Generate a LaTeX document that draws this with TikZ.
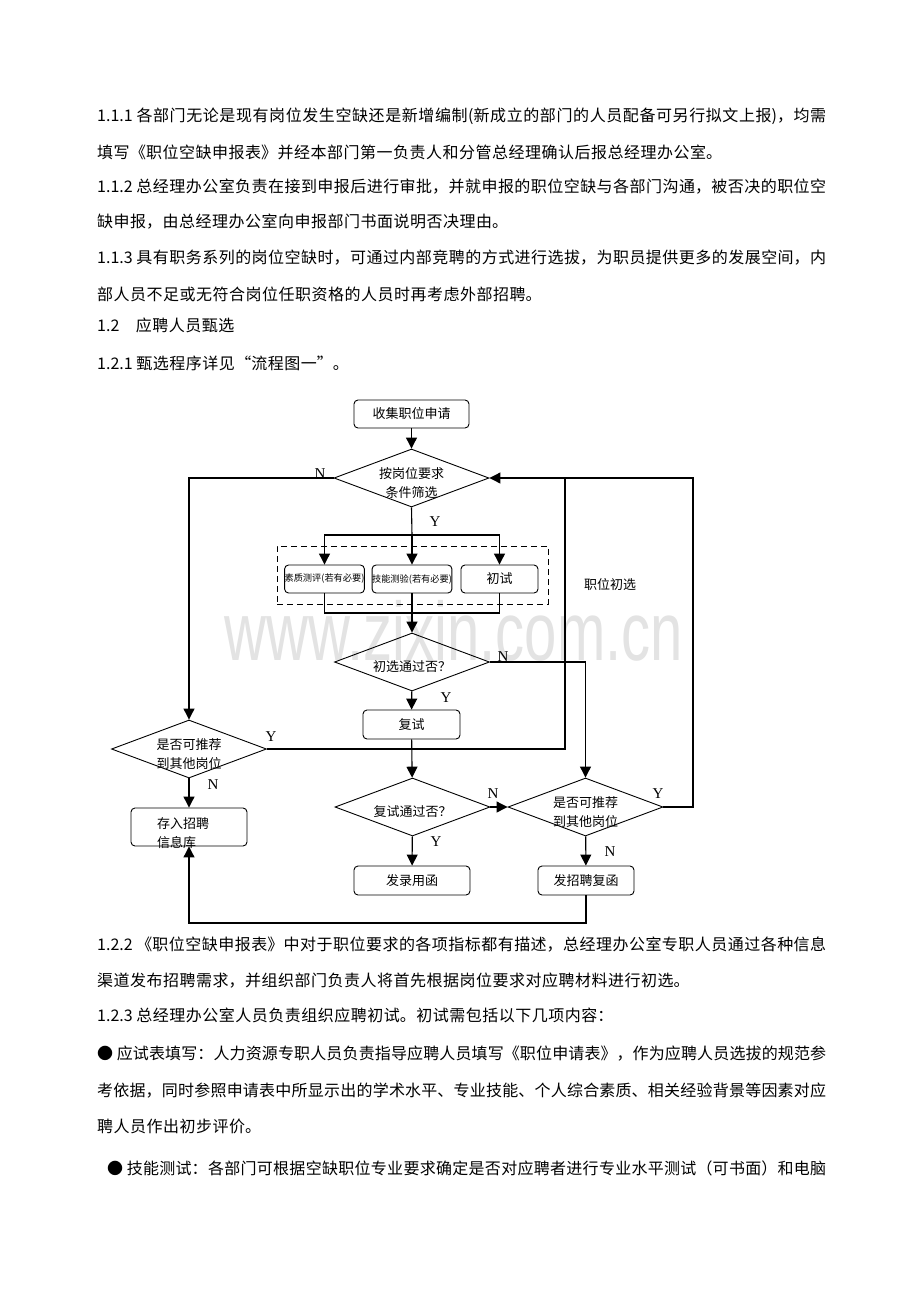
\documentclass[tikz,border=0pt]{standalone}
\usepackage{fontspec}
\setmainfont{Liberation Serif}
\newfontfamily\cjk{Noto Sans CJK SC}
\newfontfamily\markfont{Liberation Sans}
\usetikzlibrary{shapes.geometric,arrows.meta}
\XeTeXlinebreaklocale "zh"
\XeTeXlinebreakskip=0pt plus 1pt
% a body line stretched to the full measure
\newcommand{\jline}[2][729pt]{\parbox[t]{#1}{\XeTeXlinebreakskip=0pt plus 5pt\parfillskip=0pt\relax #2}}
% a short (last) line of a paragraph
\newcommand{\sline}[1]{\parbox[t]{729pt}{\XeTeXlinebreakskip=0.5pt\relax #1}}
\tikzset{
  docline/.style={anchor=base west,inner sep=0pt,font=\cjk\fontsize{16}{19}\selectfont},
  proc/.style={draw,line width=0.9pt,rounded corners=4pt,minimum height=29pt,inner sep=1pt,font=\cjk\fontsize{13}{15}\selectfont},
  testbox/.style={proc,minimum width=77pt,minimum height=28pt,inner sep=0pt,font=\cjk\fontsize{9.2}{11}\selectfont},
  decide/.style={diamond,draw,line width=0.9pt,minimum width=155pt,minimum height=58pt,inner sep=0pt},
  boxtext/.style={inner sep=0pt,font=\cjk\fontsize{13}{19.5}\selectfont},
  dtext/.style={boxtext,align=center,yshift=-5pt},
  yn/.style={inner sep=0pt,font=\fontsize{15}{15}\selectfont},
  arrowline/.style={line width=1.1pt,-{Triangle[length=11pt,width=11pt]}},
  plainline/.style={line width=1.1pt},
}
\begin{document}
\begin{tikzpicture}[x=1pt,y=-1pt]
\fill[white](0,0)rectangle(920,1302);
\useasboundingbox(0,0)rectangle(920,1302);
% watermark
\node[anchor=base,inner sep=0pt,text=black!11,font=\markfont\fontsize{83}{83}\selectfont](mark)at(454,660){\scalebox{0.7}[1]{www.zixin.com.cn}};
% text above the chart
\node[docline](p1)at(97,121){\jline{1.1.1 各部门无论是现有岗位发生空缺还是新增编制(新成立的部门的人员配备可另行拟文上报)，均需}};
\node[docline](p2)at(97,158){\sline{填写《职位空缺申报表》并经本部门第一负责人和分管总经理确认后报总经理办公室。}};
\node[docline](p3)at(97,192){\jline{1.1.2 总经理办公室负责在接到申报后进行审批，并就申报的职位空缺与各部门沟通，被否决的职位空}};
\node[docline](p4)at(97,227){\sline{缺申报，由总经理办公室向申报部门书面说明否决理由。}};
\node[docline](p5)at(97,263){\jline{1.1.3 具有职务系列的岗位空缺时，可通过内部竞聘的方式进行选拔，为职员提供更多的发展空间，内}};
\node[docline](p6)at(97,300){\sline{部人员不足或无符合岗位任职资格的人员时再考虑外部招聘。}};
\node[docline](p7)at(97,331){\sline{1.2　应聘人员甄选}};
\node[docline](p8)at(97,369){\sline{1.2.1 甄选程序详见“流程图一”。}};
% flow chart
\node[proc,minimum width=115pt,minimum height=28pt](collect)at(411.5,414){收集职位申请};
\node[decide,label={[dtext]center:{按岗位要求\\条件筛选}}](screen)at(411.5,478){};
\node[draw,dashed,dash pattern=on 6pt off 4pt,line width=0.9pt,minimum width=271pt,minimum height=58pt,inner sep=0pt](group)at(412.5,575){};
\node[testbox](qual)at(324.5,579){素质测评(若有必要)};
\node[testbox](skill)at(412,579){技能测验(若有必要)};
\node[testbox,font=\cjk\fontsize{13}{15}\selectfont](first)at(499.5,579){初试};
\node[boxtext](stage)at(610,585){职位初选};
\node[decide,label={[dtext]center:{初选通过否？}}](pass1)at(412,662){};
\node[proc,minimum width=97pt](retest)at(411.5,724.5){复试};
\node[decide,label={[dtext]center:{是否可推荐\\到其他岗位}}](recL)at(189,749){};
\node[proc,minimum width=116pt,minimum height=38pt](store)at(189,827){};
\node[boxtext,anchor=west,align=left](storetext)at(157,833){存入招聘\\信息库};
\node[decide,label={[dtext]center:{复试通过否？}}](pass2)at(412.5,807){};
\node[decide,label={[dtext]center:{是否可推荐\\到其他岗位}}](recR)at(585.5,807){};
\node[proc,minimum width=116pt](offer)at(412,880.5){发录用函};
\node[proc,minimum width=96pt](reply)at(586,880.5){发招聘复函};
\coordinate(split)at(412,535);
\coordinate(merge)at(412,613);
\coordinate(loopA)at(565,478);
\coordinate(loopB)at(693,478);
\coordinate(back)at(586,923);
\draw[arrowline](collect)--(screen);
\draw[arrowline](screen.west)-|(recL.north);
\draw[plainline](screen.south)--(split);
\draw[arrowline](split)-|(qual.north);
\draw[arrowline](split)-|(first.north);
\draw[arrowline](split)--(skill.north);
\draw[plainline](qual.south)|-(merge);
\draw[plainline](first.south)|-(merge);
\draw[arrowline](skill.south)--(pass1.north);
\draw[arrowline](pass1.east)-|(recR.north);
\draw[arrowline](pass1)--(retest);
\draw[arrowline](retest)--(pass2);
\draw[plainline](recL.east)-|(loopA);
\draw[arrowline](recR.east)-|(loopB)--(screen.east);
\draw[arrowline](recL)--(store);
\draw[arrowline](pass2)--(recR);
\draw[arrowline](pass2)--(offer);
\draw[arrowline](recR)--(reply);
\draw[arrowline](reply.south)--(back)-|(store.south);
% Y / N marks
\node[yn](n1)at(320,474){N};
\node[yn](y1)at(435,522){Y};
\node[yn](n2)at(503,657){N};
\node[yn](y2)at(446,698){Y};
\node[yn](y3)at(271,737){Y};
\node[yn](n3)at(213,785){N};
\node[yn](n4)at(493,794){N};
\node[yn](y4)at(658,794){Y};
\node[yn](y5)at(436,842){Y};
\node[yn](n5)at(610,852){N};
% text below the chart
\node[docline](p9)at(97,950){\jline{1.2.2 《职位空缺申报表》中对于职位要求的各项指标都有描述，总经理办公室专职人员通过各种信息}};
\node[docline](p10)at(97,986){\sline{渠道发布招聘需求，并组织部门负责人将首先根据岗位要求对应聘材料进行初选。}};
\node[docline](p11)at(97,1021){\sline{1.2.3 总经理办公室人员负责组织应聘初试。初试需包括以下几项内容：}};
\node[docline](p12)at(97,1059){\jline{● 应试表填写：人力资源专职人员负责指导应聘人员填写《职位申请表》，作为应聘人员选拔的规范参}};
\node[docline](p13)at(97,1096){\jline{考依据，同时参照申请表中所显示出的学术水平、专业技能、个人综合素质、相关经验背景等因素对应}};
\node[docline](p14)at(97,1132){\sline{聘人员作出初步评价。}};
\node[docline](p15)at(107,1174){\jline[719pt]{● 技能测试：各部门可根据空缺职位专业要求确定是否对应聘者进行专业水平测试（可书面）和电脑}};
\end{tikzpicture}
\end{document}
